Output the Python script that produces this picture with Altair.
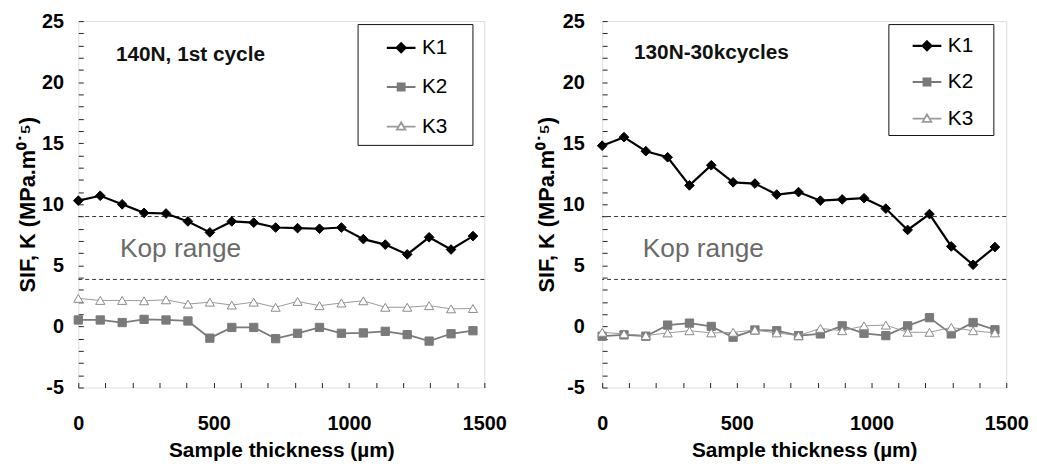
import altair as alt
import pandas as pd

FONT = "Liberation Sans"

# ---- data ----
thickness = [0, 81, 162, 243, 324, 405, 486, 567, 648, 729, 810, 891, 972,
             1053, 1134, 1215, 1296, 1377, 1458]

left_K1 = [10.3, 10.7, 10.0, 9.3, 9.25, 8.6, 7.7, 8.6, 8.5, 8.1, 8.05, 8.0, 8.1,
           7.15, 6.7, 5.9, 7.3, 6.3, 7.4]
left_K2 = [0.53, 0.53, 0.32, 0.58, 0.53, 0.45, -0.96, -0.08, -0.08, -1.0, -0.56,
           -0.08, -0.56, -0.53, -0.4, -0.67, -1.2, -0.6, -0.35]
left_K3 = [2.3, 2.13, 2.13, 2.1, 2.18, 1.83, 1.99, 1.75, 1.99, 1.57, 2.05, 1.7,
           1.92, 2.1, 1.57, 1.57, 1.7, 1.44, 1.47]

right_K1 = [14.8, 15.5, 14.35, 13.85, 11.55, 13.2, 11.8, 11.7, 10.8, 11.0, 10.3,
            10.4, 10.5, 9.65, 7.9, 9.2, 6.55, 5.05, 6.5]
right_K2 = [-0.8, -0.69, -0.8, 0.11, 0.27, 0.0, -0.88, -0.29, -0.35, -0.75, -0.61,
            0.05, -0.56, -0.75, 0.05, 0.72, -0.61, 0.32, -0.27]
right_K3 = [-0.48, -0.61, -0.75, -0.53, -0.35, -0.53, -0.48, -0.29, -0.53, -0.75,
            -0.16, -0.35, 0.05, 0.11, -0.48, -0.48, -0.08, -0.35, -0.53]

series_names = ["K1", "K2", "K3"]
kop_bounds = [9.0, 3.85]

left_title = "140N, 1st cycle"
right_title = "130N-30kcycles"
left_title_pos = (139, 21.75)
right_title_pos = (118, 21.9)
kop_label = "Kop range"
left_kop_pos = (154, 5.7)
right_kop_pos = (151, 5.7)

x_ticks = [0, 500, 1000, 1500]
y_ticks = [-5, 0, 5, 10, 15, 20, 25]
x_minor = list(range(0, 1501, 100))
y_minor = list(range(-5, 26))

# ---- styles ----
line_color = {"K1": "#000000", "K2": "#7a7a7a", "K3": "#9a9a9a"}
line_width = {"K1": 2.2, "K2": 1.8, "K3": 1.0}
pt_shape = {"K1": "diamond", "K2": "square", "K3": "triangle-up"}
pt_fill = {"K1": "#000000", "K2": "#7a7a7a", "K3": "#ffffff"}
pt_stroke = {"K1": "#000000", "K2": "#7a7a7a", "K3": "#8a8a8a"}
pt_size = {"K1": 95, "K2": 70, "K3": 85}

legend_paths = [
    "M-1,0H1M0,-0.31L0.31,0L0,0.31L-0.31,0Z",
    "M-1,0H1M-0.24,-0.24H0.24V0.24H-0.24Z",
    "M-1,0H-0.17M0.17,0H1M0,-0.3L0.3,0.22L-0.3,0.22Z",
]

xscale = alt.Scale(domain=[0, 1500], nice=False, zero=False)
yscale = alt.Scale(domain=[-5, 25], nice=False, zero=False)


def panel(k1, k2, k3, title_text, title_pos, kop_pos, width, ylab_pad, y_extent, y_tpad,
          legx, legy, leg_pad, sym_off, row_pad, right_gap):
    df = pd.DataFrame({
        "x": thickness * 3,
        "y": k1 + k2 + k3,
        "series": ["K1"] * len(k1) + ["K2"] * len(k2) + ["K3"] * len(k3),
    })

    main_x_axis = alt.Axis(orient="bottom", values=x_ticks, ticks=False, tickSize=0,
                           domain=False, grid=False, labelPadding=26, labelFontSize=20,
                           labelFontWeight="bold", labelFont=FONT, labelColor="black",
                           labelFlush=False, labelOverlap=False,
                           labelExpr="'' + datum.value",
                           title="Sample thickness (µm)", titleFontSize=21,
                           titleFontWeight="bold", titleFont=FONT, titleColor="black",
                           titlePadding=7, minExtent=46, maxExtent=46)
    main_y_axis = alt.Axis(orient="left", values=y_ticks, ticks=False, tickSize=0,
                           domain=False, grid=False, labelPadding=ylab_pad, labelFontSize=20,
                           labelFontWeight="bold", labelFont=FONT, labelColor="black",
                           labelOverlap=False, labelExpr="'' + datum.value",
                           title="SIF, K (MPa.m⁰˙⁵)", titleFontSize=22,
                           titleFontWeight="bold", titleFont=FONT, titleColor="black",
                           titlePadding=y_tpad, minExtent=y_extent, maxExtent=y_extent)
    tick_x_axis = alt.Axis(values=x_minor, labels=False, domain=False, grid=False,
                           ticks=True, tickSize=5, tickColor="#222", tickWidth=1,
                           offset=-5, title=None, orient="bottom")
    tick_y_axis = alt.Axis(values=y_minor, labels=False, domain=False, grid=False,
                           ticks=True, tickSize=5, tickColor="#222", tickWidth=1,
                           offset=-5, title=None, orient="left")

    layers = []
    # dashed Kop range lines
    rules = pd.DataFrame({"y": kop_bounds})
    layers.append(alt.Chart(rules).mark_rule(color="#333", strokeWidth=1,
                                             strokeDash=[4, 3]).encode(
        y=alt.Y("y:Q", scale=yscale, axis=tick_y_axis)))

    first = True
    for s in series_names:
        sub = alt.Chart(df).transform_filter(alt.datum.series == s)
        layers.append(sub.mark_line(color=line_color[s], strokeWidth=line_width[s]).encode(
            x=alt.X("x:Q", scale=xscale, axis=main_x_axis if first else None),
            y=alt.Y("y:Q", scale=yscale, axis=main_y_axis if first else None),
        ))
        layers.append(sub.mark_point(shape=pt_shape[s], fill=pt_fill[s], filled=True,
                                     stroke=pt_stroke[s], strokeWidth=1,
                                     size=pt_size[s], opacity=1).encode(
            x=alt.X("x:Q", scale=xscale, axis=tick_x_axis if first else None),
            y=alt.Y("y:Q", scale=yscale, axis=None),
        ))
        first = False

    leg = alt.Legend(title="\u00a0", titleOrient="right", titlePadding=right_gap,
                     titleFontSize=8, orient="none", legendX=legx, legendY=legy,
                     padding=leg_pad, symbolOffset=sym_off, symbolSize=841,
                     labelOffset=5, rowPadding=row_pad, labelFontSize=21,
                     labelFont=FONT, labelColor="black", strokeColor="#111",
                     fillColor="white", symbolOpacity=1)
    layers.append(alt.Chart(df).mark_point(opacity=0).encode(
        x=alt.X("x:Q", scale=xscale, axis=None),
        y=alt.Y("y:Q", scale=yscale, axis=None),
        shape=alt.Shape("series:N", scale=alt.Scale(domain=series_names, range=legend_paths), legend=leg),
        fill=alt.Fill("series:N", scale=alt.Scale(domain=series_names,
                                                  range=[pt_fill[s] for s in series_names]), legend=leg),
        stroke=alt.Stroke("series:N", scale=alt.Scale(domain=series_names,
                                                      range=[line_color[s] for s in series_names]), legend=leg),
        strokeWidth=alt.StrokeWidth("series:N", scale=alt.Scale(domain=series_names,
                                                                range=[line_width[s] for s in series_names]), legend=leg),
    ))

    tdf = pd.DataFrame({"x": [title_pos[0]], "y": [title_pos[1]], "t": [title_text]})
    layers.append(alt.Chart(tdf).mark_text(align="left", baseline="alphabetic", font=FONT,
                                           fontSize=21, fontWeight="bold", color="#111").encode(
        x=alt.X("x:Q", scale=xscale, axis=None), y=alt.Y("y:Q", scale=yscale, axis=None),
        text="t:N"))
    kdf = pd.DataFrame({"x": [kop_pos[0]], "y": [kop_pos[1]], "t": [kop_label]})
    layers.append(alt.Chart(kdf).mark_text(align="left", baseline="alphabetic", font=FONT,
                                           fontSize=26.5, color="#6a6a6a").encode(
        x=alt.X("x:Q", scale=xscale, axis=None), y=alt.Y("y:Q", scale=yscale, axis=None),
        text="t:N"))

    return alt.layer(*layers).resolve_axis(x="independent", y="independent").properties(
        width=width, height=370)


left = panel(left_K1, left_K2, left_K3, left_title, left_title_pos, left_kop_pos, 410,
             15, 37, 2, 282, 3, 8, 20, 14, 17)
right = panel(right_K1, right_K2, right_K3, right_title, right_title_pos, right_kop_pos, 408,
              18, 40, 4, 289, 3, 6, 17, 11, 14)

chart = alt.hconcat(left, right, spacing=28).resolve_scale(
    shape="independent", fill="independent", stroke="independent", strokeWidth="independent"
).resolve_legend(
    shape="independent", fill="independent", stroke="independent", strokeWidth="independent"
).properties(
    padding={"left": 8, "top": 0, "right": 0, "bottom": 0}
).configure_view(stroke="#222", strokeWidth=1.5).configure(background="white")

chart.save("out.html", embed_options={"renderer": "svg", "actions": False})
